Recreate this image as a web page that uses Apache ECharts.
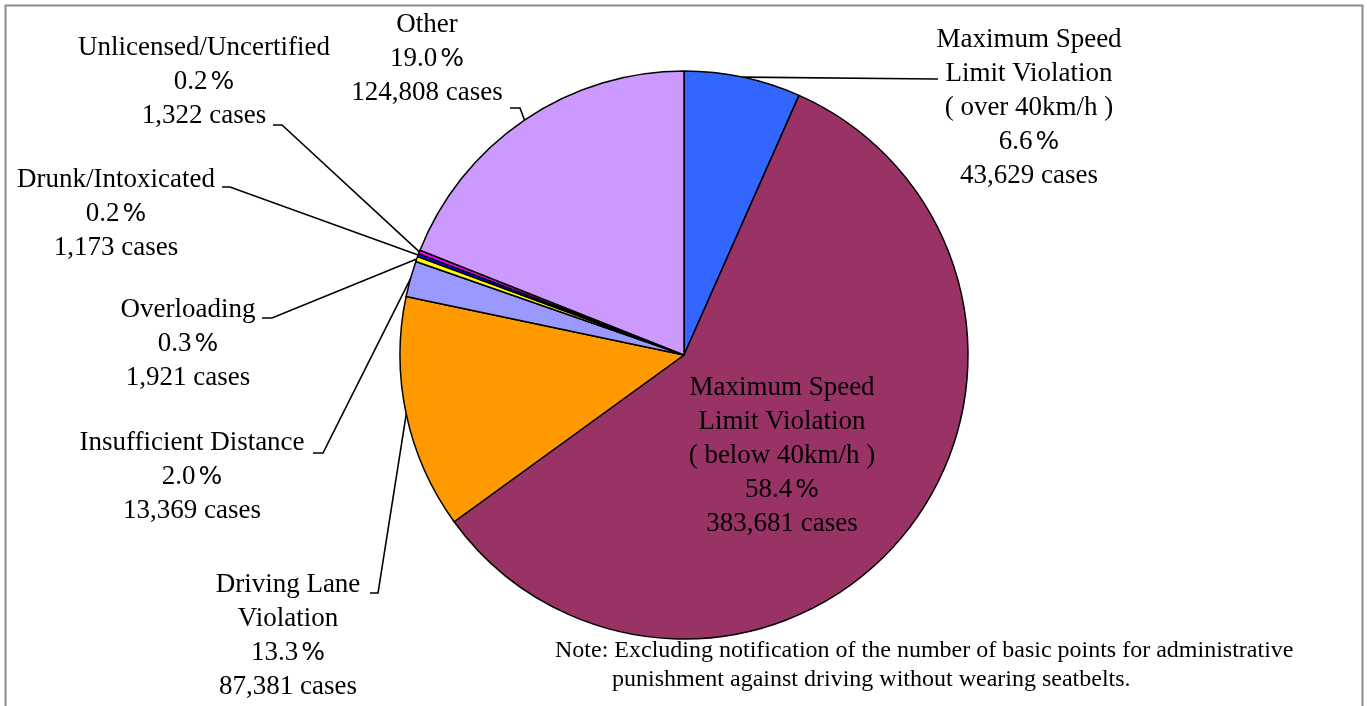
<!DOCTYPE html>
<html>
<head>
<meta charset="utf-8">
<script src="https://cdn.jsdelivr.net/npm/echarts@6/dist/echarts.min.js"></script>
<style>
  html, body { margin: 0; padding: 0; background: #fff; }
  #chart { width: 1367px; height: 706px; }
</style>
</head>
<body>
<div id="chart"></div>
<script>
// categories, clockwise from 12 o'clock
const categories = [
  'Maximum Speed\nLimit Violation\n( over 40km/h )',
  'Maximum Speed\nLimit Violation\n( below 40km/h )',
  'Driving Lane\nViolation',
  'Insufficient Distance',
  'Overloading',
  'Drunk/Intoxicated',
  'Unlicensed/Uncertified',
  'Other'
];
const cases = [43629, 383681, 87381, 13369, 1921, 1173, 1322, 124808];
const sliceColors = ['#3366FF', '#993366', '#FF9900', '#9999FF', '#FFFF00', '#0000FF', '#FF00FF', '#CC99FF'];

// where each label sits (centre x, top y) and the short stub its leader line ends on
const labelSpots = [
  { x: 1029, y: 23, line: [[936, 79], [938, 79]] },
  { x: 782, y: 371, line: null },
  { x: 288, y: 568, line: [[378, 593], [370, 593]] },
  { x: 192, y: 426, line: [[323, 453], [313, 453]] },
  { x: 188, y: 293, line: [[272, 318], [262, 318]] },
  { x: 116, y: 163, line: [[230, 187], [222, 187]] },
  { x: 204, y: 31, line: [[282, 125], [273, 125]] },
  { x: 427, y: 8, line: [[520, 108], [510, 108]] }
];

const serif = "'Liberation Serif', 'Times New Roman', serif";

let chart = echarts.init(document.getElementById('chart'));

let pieData = categories.map(function (name, i) {
  let item = {
    name: name,
    value: cases[i],
    itemStyle: { color: sliceColors[i] }
  };
  if (i === 1) {
    item.label = { position: 'inside' };
    item.labelLine = { show: false };
  }
  return item;
});

let option = {
  animation: false,
  backgroundColor: '#fff',
  graphic: [
    {
      type: 'rect',
      shape: { x: 5.5, y: 5.5, width: 1357, height: 740 },
      style: { fill: null, stroke: '#8c8c8c', lineWidth: 2 },
      silent: true
    },
    {
      type: 'text',
      left: 555,
      top: 639,
      style: {
        text: 'Note: Excluding notification of the number of basic points for administrative',
        font: '24px ' + serif,
        fill: '#000'
      }
    },
    {
      type: 'text',
      left: 612,
      top: 668,
      style: {
        text: 'punishment against driving without wearing seatbelts.',
        font: '24px ' + serif,
        fill: '#000'
      }
    }
  ],
  series: [
    {
      type: 'pie',
      center: [684, 355],
      radius: 284,
      startAngle: 90,
      clockwise: true,
      avoidLabelOverlap: false,
      percentPrecision: 1,
      data: pieData,
      itemStyle: { borderColor: '#000', borderWidth: 1.5 },
      emphasis: { disabled: true },
      label: {
        show: true,
        position: 'outside',
        fontFamily: serif,
        fontSize: 27,
        lineHeight: 34,
        color: '#000',
        align: 'center',
        formatter: function (p) {
          return p.name + '\n' + p.percent.toFixed(1) + '{pc|%}\n' + p.value.toLocaleString('en-US') + ' cases';
        },
        rich: {
          pc: {
            fontFamily: "'DejaVu Sans', sans-serif",
            fontSize: 25,
            lineHeight: 34,
            color: '#000',
            padding: [0, 0, 0, 3]
          }
        }
      },
      labelLine: {
        show: true,
        length: 10,
        length2: 10,
        lineStyle: { color: '#000', width: 1.6 }
      },
      labelLayout: function (params) {
        let spot = labelSpots[params.dataIndex];
        let out = { x: spot.x, y: spot.y, align: 'center', verticalAlign: 'top' };
        if (spot.line && params.labelLinePoints) {
          out.labelLinePoints = [params.labelLinePoints[0], spot.line[0], spot.line[1]];
        }
        return out;
      }
    }
  ]
};

chart.setOption(option);
</script>
</body>
</html>
